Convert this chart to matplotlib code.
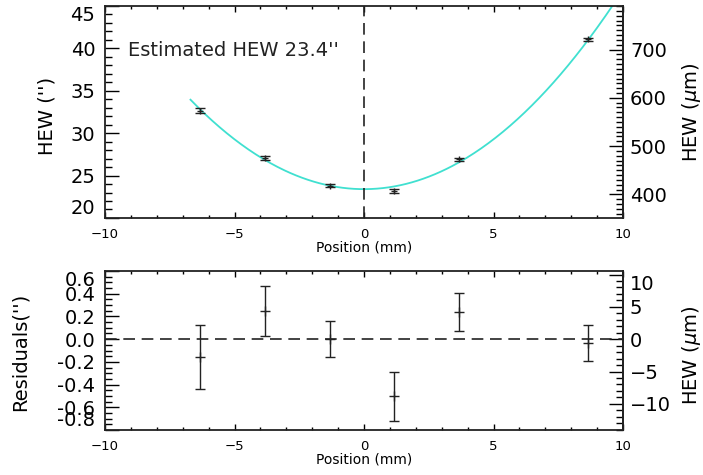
import numpy as np
import matplotlib
matplotlib.use('Agg')
from matplotlib import pyplot as plt
from matplotlib.ticker import MultipleLocator

plt.rcParams['font.family'] = ['DejaVu Sans']

# measured points
position = [-6.33, -3.82, -1.31, 1.17, 3.67, 8.66]
hew = [32.65, 27.05, 23.80, 23.22, 26.90, 41.08]
residual = [-0.155, 0.248, 0.0, -0.503, 0.238, -0.032]
err = [0.283, 0.222, 0.160, 0.216, 0.167, 0.160]

# parabola fit: hew_min + curv * x^2
hew_min = 23.4
curv = 0.235
fit_range = [-6.7, 10.0]

um_per_arcsec = 17.56  # plate scale

ink = '#222222'
fig = plt.figure(figsize=(7.03, 4.75), dpi=100)
ax1 = fig.add_axes([0.1494, 0.5411, 0.7368, 0.4463])
ax2 = fig.add_axes([0.1494, 0.0947, 0.7368, 0.3347])

xf = np.linspace(fit_range[0], fit_range[1], 300)
ax1.plot(xf, hew_min + curv * xf ** 2, color='#40e0d0', lw=1.3)
ax1.errorbar(position, hew, yerr=err, fmt='+', color=ink, ms=5,
             capsize=3.5, elinewidth=1, capthick=1, mew=1)
ax1.axvline(0, color=ink, ls=(0, (7, 4)), lw=1.2)
ax1.text(0.044, 0.789, "Estimated HEW 23.4''", transform=ax1.transAxes,
         fontsize=14, va='center', ha='left', color=ink)
ax1.set_ylim(20, 45)
ax1.set_yticks([20, 25, 30, 35, 40, 45])
ax1.yaxis.set_minor_locator(MultipleLocator(1))
ax1.set_ylabel("HEW ('')", fontsize=14, va='center')
ax1.yaxis.set_label_coords(-0.112, 0.48)

res_ticks = np.round(np.arange(-0.8, 0.61, 0.2), 1)
ax2.errorbar(position, residual, yerr=err, fmt='+', color=ink, ms=7,
             capsize=3.5, elinewidth=1, capthick=1, mew=1)
ax2.axhline(0, color=ink, ls=(0, (7, 4)), lw=1.2)
ax2.set_ylim(-0.8, 0.6)
ax2.set_yticks(res_ticks)
ax2.set_yticklabels(['%.1f' % (v + 0.0) for v in res_ticks])
ax2.yaxis.set_minor_locator(MultipleLocator(0.05))
ax2.set_ylabel("Residuals('')", fontsize=14, va='center')
ax2.yaxis.set_label_coords(-0.164, 0.49)

for ax in (ax1, ax2):
    ax.set_xlim(-10, 10)
    ax.set_xticks([-10, -5, 0, 5, 10])
    ax.xaxis.set_minor_locator(MultipleLocator(1))
    ax.set_xlabel('Position (mm)', fontsize=10, labelpad=0)
    ax.tick_params(axis='x', which='major', direction='in', length=4,
                   labelsize=9.5, top=True, pad=7, width=1)
    ax.tick_params(axis='x', which='minor', direction='in', length=2,
                   top=True, width=1)
    ax.tick_params(axis='y', which='major', direction='in', length=10,
                   labelsize=14, right=False, width=1, pad=7)
    ax.tick_params(axis='y', which='minor', direction='in', length=5, width=1)
    for s in ax.spines.values():
        s.set_linewidth(1.3)
        s.set_color(ink)
    yt = ax.yaxis.get_major_ticks()
    yt[0].label1.set_va('bottom')
    yt[-1].label1.set_va('top')

to_um = (lambda a: a * um_per_arcsec, lambda u: u / um_per_arcsec)
sec1 = ax1.secondary_yaxis('right', functions=to_um)
sec1.set_yticks([400, 500, 600, 700])
sec1.yaxis.set_minor_locator(MultipleLocator(10))
sec1.set_ylabel(r'HEW ($\mu$m)', fontsize=14, va='center')
sec1.yaxis.set_label_coords(1.133, 0.5, transform=ax1.transAxes)

sec2 = ax2.secondary_yaxis('right', functions=to_um)
sec2.set_yticks([-10, -5, 0, 5, 10])
sec2.yaxis.set_minor_locator(MultipleLocator(1))
sec2.set_ylabel(r'HEW ($\mu$m)', fontsize=14, va='center')
sec2.yaxis.set_label_coords(1.133, 0.47, transform=ax2.transAxes)
sec2.yaxis.get_major_ticks()[-1].label2.set_va('top')

for sec in (sec1, sec2):
    sec.tick_params(which='major', direction='in', length=10, labelsize=14,
                    width=1, pad=5)
    sec.tick_params(which='minor', direction='in', length=5, width=1)
    sec.spines['right'].set_linewidth(1.3)
    sec.spines['right'].set_color(ink)

fig.savefig('out.png', dpi=100)
